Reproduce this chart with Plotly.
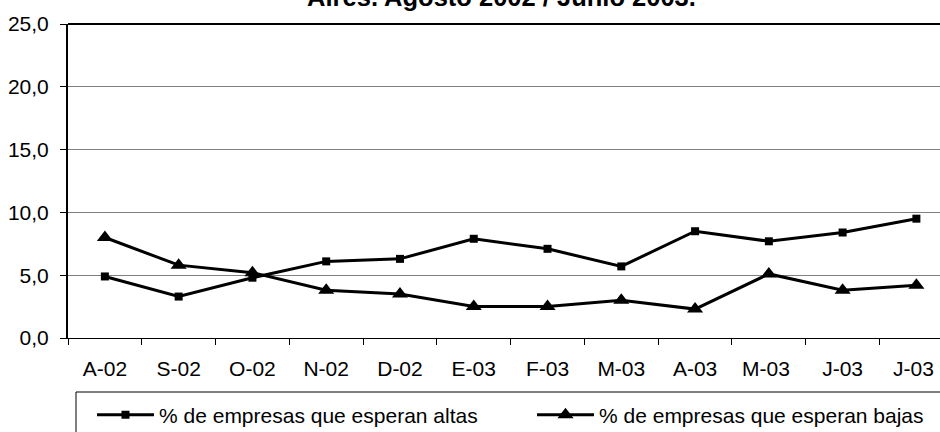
import plotly.graph_objects as go

categories = ["A-02", "S-02", "O-02", "N-02", "D-02", "E-03", "F-03", "M-03", "A-03", "M-03 ", "J-03", "J-03 "]
altas = [4.9, 3.3, 4.8, 6.1, 6.3, 7.9, 7.1, 5.7, 8.5, 7.7, 8.4, 9.5]
bajas = [8.0, 5.8, 5.2, 3.8, 3.5, 2.5, 2.5, 3.0, 2.3, 5.1, 3.8, 4.2]
name_altas = "% de empresas que esperan altas"
name_bajas = "% de empresas que esperan bajas"
title_text = "Aires. Agosto 2002 / Junio 2003."

FONT = "Liberation Sans, Arial, sans-serif"
W, H = 940, 432
ML, MT, MB, MR = 68, 24, 94, 0
PH = H - MT - MB

fig = go.Figure()
fig.add_trace(go.Scatter(
    x=categories, y=altas, name=name_altas, mode="lines+markers",
    line=dict(color="black", width=3),
    marker=dict(symbol="square", size=8, color="black"),
    legend="legend",
))
fig.add_trace(go.Scatter(
    x=categories, y=bajas, name=name_bajas, mode="lines+markers",
    line=dict(color="black", width=3),
    marker=dict(symbol="triangle-up", size=14, color="black"),
    legend="legend2",
))

# legend box
fig.add_shape(type="rect", xref="paper", yref="paper",
              x0=(76 - ML) / (W - ML - MR), x1=1.05,
              y0=-(H + 10 - (H - MB)) / PH,
              y1=-(392 - (H - MB)) / PH,
              line=dict(color="black", width=1), fillcolor="rgba(0,0,0,0)")
# top border
fig.add_shape(type="line", xref="paper", yref="paper", x0=0, x1=1, y0=1, y1=1,
              line=dict(color="black", width=2))

fig.update_layout(
    width=W, height=H,
    margin=dict(l=ML, r=MR, t=MT, b=MB, pad=0, autoexpand=False),
    paper_bgcolor="white", plot_bgcolor="white",
    font=dict(family=FONT, size=21, color="black"),
    separators=",.",
    showlegend=True,
    title=dict(text="<b>" + title_text + "</b>", font=dict(size=25.5, family=FONT),
               xref="container", x=501.5 / W, xanchor="center",
               yref="container", y=1 - 10 / H, yanchor="bottom",
               pad=dict(b=4), automargin=False),
    xaxis=dict(type="category", range=[-0.5, 11.32], tickson="boundaries",
               showgrid=False, showline=True, linecolor="black", linewidth=1,
               ticks="outside", ticklen=6, tickcolor="black", tickwidth=1,
               ticklabelstandoff=12, zeroline=False, fixedrange=True,
               automargin=False),
    yaxis=dict(range=[0, 25], dtick=5, tickformat=".1f",
               showgrid=True, gridcolor="#808080", gridwidth=1,
               showline=True, linecolor="black", linewidth=2,
               ticks="outside", ticklen=6, tickcolor="black", tickwidth=1,
               ticklabelstandoff=7,
               zeroline=False, fixedrange=True, automargin=False),
    legend=dict(orientation="h", xref="container", yref="container",
                x=92 / W, y=1 - 415 / H, xanchor="left", yanchor="middle",
                bgcolor="rgba(0,0,0,0)", borderwidth=0, itemwidth=57,
                font=dict(size=21, family=FONT)),
    legend2=dict(orientation="h", xref="container", yref="container",
                 x=532 / W, y=1 - 415 / H, xanchor="left", yanchor="middle",
                 bgcolor="rgba(0,0,0,0)", borderwidth=0, itemwidth=57,
                 font=dict(size=21, family=FONT)),
)

fig.write_html("out.html", config={"displayModeBar": False},
               post_script="document.body.style.margin='0';document.body.style.overflow='hidden';")
